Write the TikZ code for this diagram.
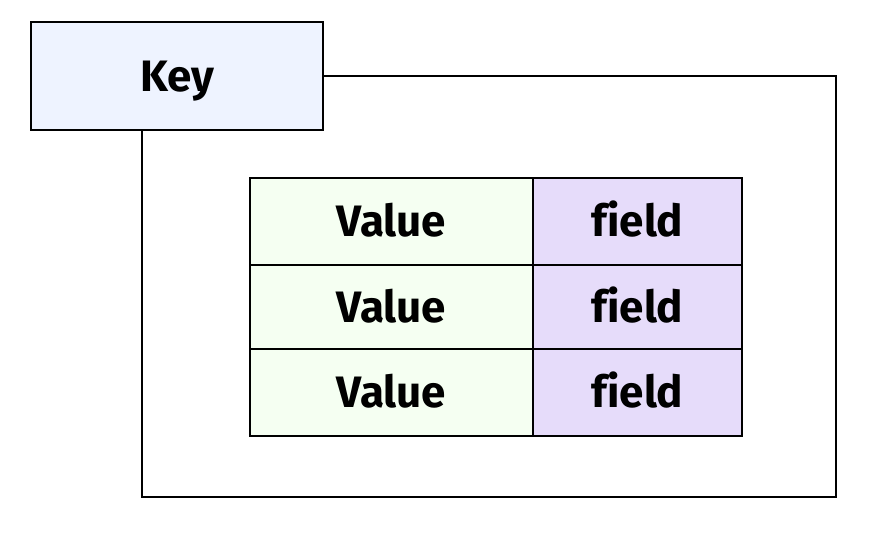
\documentclass[tikz,border=0pt]{standalone}
\usepackage{fontspec}
\setmainfont[Ligatures=NoCommon]{Fira Sans}
\definecolor{keyfill}{HTML}{EEF3FF}
\definecolor{valfill}{HTML}{F5FFF2}
\definecolor{fldfill}{HTML}{E6DCFA}
\begin{document}
\begin{tikzpicture}[x=1pt,y=-1pt,
  box/.style={draw=black,line width=2.2pt,inner sep=0pt,text height=30pt,text depth=0pt,font=\fontsize{44}{52}\selectfont\bfseries},
  frame/.style={draw=black,line width=2.2pt}]
\useasboundingbox (0,0) rectangle (874,536);
\draw[frame] (142,129) |- (836,497) |- (323,76);
\node[box,fill=keyfill,minimum width=292pt,minimum height=108pt] (key) at (177,76) {Key};
\node[box,fill=valfill,minimum width=283pt,minimum height=87pt] (v1) at (391.5,221.5) {Value};
\node[box,fill=fldfill,minimum width=209pt,minimum height=87pt] (f1) at (637.5,221.5) {field};
\node[box,fill=valfill,minimum width=283pt,minimum height=84pt] (v2) at (391.5,307) {Value};
\node[box,fill=fldfill,minimum width=209pt,minimum height=84pt] (f2) at (637.5,307) {field};
\node[box,fill=valfill,minimum width=283pt,minimum height=87pt] (v3) at (391.5,392.5) {Value};
\node[box,fill=fldfill,minimum width=209pt,minimum height=87pt] (f3) at (637.5,392.5) {field};
\end{tikzpicture}
\end{document}
